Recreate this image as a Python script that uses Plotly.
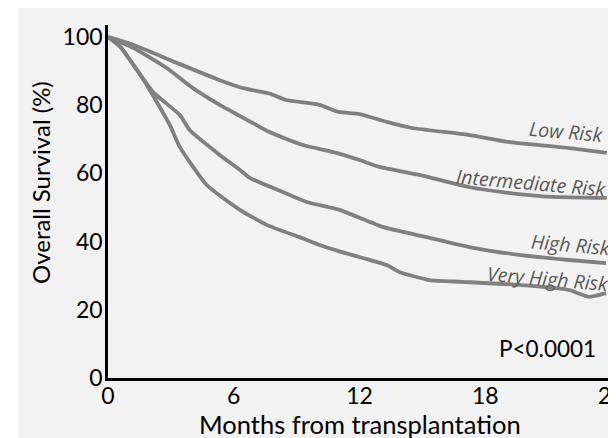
import plotly.graph_objects as go

# Kaplan-Meier style curves (months, overall survival %)
low_months = [0, 1.2, 3.4, 5.3, 6.5, 7.7, 8.5, 10.1, 11.0, 12.0, 13.3, 14.5, 17.2, 19.1, 22.0, 23.8]
low_surv = [100, 97.7, 92.1, 87.4, 84.9, 83.4, 81.5, 80.1, 78.0, 77.4, 75.1, 73.3, 71.3, 69.2, 67.4, 66.0]

int_months = [0, 1.2, 2.8, 4.05, 5.33, 6.9, 7.7, 9.3, 10.9, 12.0, 12.95, 14.9, 17.2, 19.1, 21.2, 23.8]
int_surv = [100, 96.8, 90.9, 85.0, 80.1, 74.8, 72.1, 68.3, 66.0, 63.9, 61.9, 59.5, 56.0, 54.3, 53.1, 52.8]

high_months = [0, 0.6, 2.14, 3.43, 3.9, 5.33, 6.3, 6.76, 8.0, 9.48, 11.05, 13.1, 15.2, 17.24, 19.6, 22.0, 23.76]
high_surv = [100, 97.0, 83.9, 77.1, 72.7, 65.4, 61.0, 58.7, 55.4, 51.6, 49.3, 44.3, 41.3, 38.4, 36.1, 34.6, 33.7]

vhigh_months = [0, 0.6, 1.76, 2.95, 3.43, 4.71, 6.29, 7.57, 9.14, 10.1, 11.0, 13.3, 13.9, 15.33, 16.9, 19.6, 22.0, 22.95, 23.76]
vhigh_surv = [100, 97.0, 86.8, 74.2, 67.7, 56.6, 49.3, 44.9, 41.3, 39.0, 37.2, 33.1, 31.1, 28.7, 28.2, 27.3, 25.8, 23.8, 24.9]

series_names = ["Low Risk", "Intermediate Risk", "High Risk", "Very High Risk"]
x_ticks = [0, 6, 12, 18, 24]
y_ticks = [0, 20, 40, 60, 80, 100]

LINE = "#808080"
BG = "#f2f2f2"
AX_FONT = "Lato"

# page offset (body margin) and plot-area geometry in page pixels
OX, OY = 8, 8
FW, FH = 616 - OX, 438 - OY
PL, PT, PR, PB = 108, 25, 611, 378  # plot area edges in page pixels
L, T = PL - OX, PT - OY
W, H = PR - PL, PB - PT


def px_x(px):
    return (px - PL) / W


def px_y(py):
    return (PB - py) / H


fig = go.Figure()
for name, xs, ys in zip(series_names,
                        [low_months, int_months, high_months, vhigh_months],
                        [low_surv, int_surv, high_surv, vhigh_surv]):
    fig.add_trace(go.Scatter(x=xs, y=ys, mode="lines", name=name,
                             line=dict(color=LINE, width=3.8, shape="spline", smoothing=0.5),
                             showlegend=False))

# curve labels
label_pos = [(21.9, 72.3), (20.2, 57.4), (22.1, 39.2), (21.0, 29.2)]
for name, (lx, ly) in zip(series_names, label_pos):
    fig.add_annotation(x=lx, y=ly, xref="x", yref="y", text="<i>" + name + "</i>",
                       showarrow=False, textangle=5,
                       font=dict(family="Open Sans", size=19.5, color="#595959"),
                       xanchor="center", yanchor="middle")

fig.add_annotation(x=px_x(547), y=px_y(348), xref="paper", yref="paper", text="P<0.0001",
                   showarrow=False, font=dict(family=AX_FONT, size=22.5, color="#000"),
                   xanchor="center", yanchor="middle")

# axis titles
fig.add_annotation(x=px_x(360), y=px_y(424), xref="paper", yref="paper",
                   text="Months from transplantation", showarrow=False,
                   font=dict(family=AX_FONT, size=25.5, color="#000"),
                   xanchor="center", yanchor="middle")
fig.add_annotation(x=px_x(40), y=px_y(183), xref="paper", yref="paper",
                   text="Overall Survival (%)", showarrow=False, textangle=-90,
                   font=dict(family=AX_FONT, size=24, color="#000"),
                   xanchor="center", yanchor="middle")

# white strip left of the grey panel
fig.add_shape(type="rect", xref="paper", yref="paper",
              x0=px_x(0), x1=px_x(18), y0=px_y(440), y1=px_y(0),
              fillcolor="white", line_width=0, layer="below")

fig.update_layout(
    width=FW, height=FH,
    margin=dict(l=L, r=FW - L - W, t=T, b=FH - T - H, autoexpand=False),
    paper_bgcolor=BG, plot_bgcolor=BG,
    font=dict(family=AX_FONT, color="#000"),
    xaxis=dict(range=[0, 24], tickvals=x_ticks, ticktext=[str(v) for v in x_ticks],
               showgrid=False, zeroline=False, showline=True, linecolor="#000", linewidth=2.5,
               ticks="", tickfont=dict(family=AX_FONT, size=23), ticklabelstandoff=-4,
               ticklabeloverflow="allow", automargin=False),
    yaxis=dict(range=[0, 103.5], tickvals=y_ticks, ticktext=[str(v) for v in y_ticks],
               showgrid=False, zeroline=False, showline=True, linecolor="#000", linewidth=2.5,
               ticks="", tickfont=dict(family=AX_FONT, size=23), ticklabelstandoff=-2,
               ticklabeloverflow="allow", automargin=False),
)

fig.write_html("out.html")
